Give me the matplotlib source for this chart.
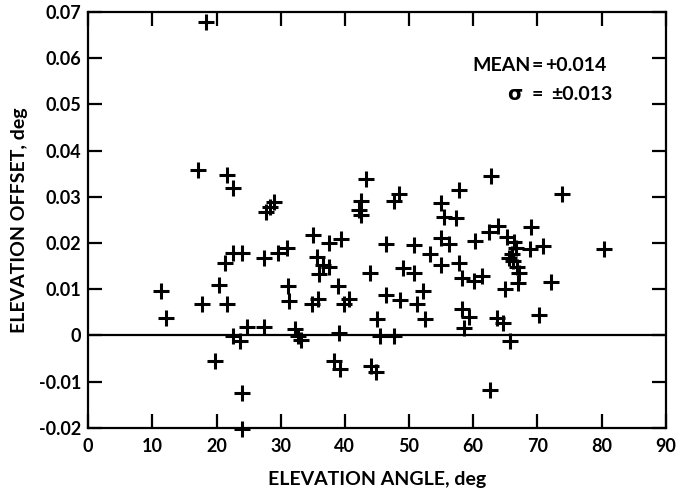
import matplotlib
matplotlib.use("Agg")
import matplotlib.pyplot as plt

# elevation angle (deg) and elevation offset (deg)
angle = [11.3, 12.1, 17.1, 17.8, 18.3, 19.8,
         20.4, 21.3, 21.6, 21.7, 22.6, 22.6, 24.0, 22.6, 23.7, 24.0, 24.0, 24.8,
         27.4, 27.4, 27.7, 28.3, 28.9, 29.6, 31.0, 31.1, 31.3, 32.3, 32.7, 33.1,
         34.9, 35.8, 35.1, 35.6, 36.6, 37.5, 35.9, 37.5, 38.9, 39.4, 38.3, 39.2,
         39.1, 39.9, 40.7,
         42.2, 42.5, 42.5, 43.3, 43.9, 44.1, 44.9, 45.0, 45.5, 46.4, 46.4, 47.6,
         47.6, 48.4, 48.6, 49.0,
         50.8, 50.8, 51.2, 52.2, 52.5, 53.3, 54.9, 55.0, 55.5, 57.3, 55.0, 56.2,
         57.8, 57.8,
         58.2, 58.3, 59.3, 58.5, 60.1, 60.3, 61.4, 62.4, 62.6, 62.7, 63.9, 63.7,
         64.7,
         65.2, 66.3, 66.6, 66.0, 65.5, 66.2, 66.8, 67.2, 66.9, 65.0, 65.7, 68.8,
         69.0, 70.8, 70.3, 72.1, 73.8, 80.3]
offset = [0.0097, 0.0037, 0.0358, 0.0067, 0.0678, -0.0055,
          0.0108, 0.0157, 0.0348, 0.0067, 0.0318, 0.0179, 0.0179, -0.0001, -0.0012, -0.0125, -0.0203, 0.0018,
          0.0018, 0.0167, 0.0267, 0.0277, 0.0289, 0.0179, 0.0188, 0.0106, 0.0074, 0.0014, -0.0001, -0.0010,
          0.0068, 0.0078, 0.0218, 0.0169, 0.0152, 0.0148, 0.0133, 0.0199, 0.0107, 0.0208, -0.0056, -0.0072,
          0.0006, 0.0068, 0.0079,
          0.0272, 0.0261, 0.0290, 0.0338, 0.0136, -0.0066, -0.0080, 0.0035, -0.0002, 0.0198, 0.0088, 0.0290,
          -0.0002, 0.0305, 0.0077, 0.0145,
          0.0135, 0.0196, 0.0067, 0.0096, 0.0035, 0.0177, 0.0153, 0.0287, 0.0256, 0.0255, 0.0211, 0.0197,
          0.0315, 0.0157,
          0.0124, 0.0056, 0.0039, 0.0015, 0.0117, 0.0205, 0.0128, 0.0223, -0.0118, 0.0345, 0.0237, 0.0038,
          0.0027,
          0.0213, 0.0203, 0.0190, 0.0175, 0.0168, 0.0160, 0.0148, 0.0135, 0.0113, 0.0101, -0.0012, 0.0187,
          0.0235, 0.0194, 0.0044, 0.0115, 0.0305, 0.0187]

x_ticks = [0, 10, 20, 30, 40, 50, 60, 70, 80, 90]
y_ticks = [-0.02, -0.01, 0, 0.01, 0.02, 0.03, 0.04, 0.05, 0.06, 0.07]
y_labels = ["-0.02", "-0.01", "0", "0.01", "0.02", "0.03", "0.04", "0.05", "0.06", "0.07"]

plt.rcParams['font.family'] = ['Lato', 'DejaVu Sans']

fig = plt.figure(figsize=(6.78, 4.94), dpi=100)
ax = fig.add_axes([0.130, 0.134, 0.852, 0.842])

ax.axhline(0, color='black', lw=1.6, zorder=1)
ax.plot(angle, offset, linestyle='none', marker='+', ms=12, mew=2.2, color='black',
        zorder=2, clip_on=False)

ax.set_xlim(0, 90)
ax.set_ylim(-0.02, 0.07)
ax.set_xticks(x_ticks)
ax.set_yticks(y_ticks)
ax.set_yticklabels(y_labels)

for s in ax.spines.values():
    s.set_linewidth(1.6)
ax.tick_params(direction='in', length=10, width=1.6, top=True, right=True,
               labelsize=13, pad=5)
ax.tick_params(axis='x', pad=7)
for lab in ax.get_xticklabels() + ax.get_yticklabels():
    lab.set_fontweight('bold')

ax.set_xlabel("ELEVATION ANGLE, deg", fontsize=14, fontweight='bold', labelpad=12)
ax.set_ylabel("ELEVATION OFFSET, deg", fontsize=14, fontweight='bold', labelpad=8)

# stats box, "=" signs lined up
ax.text(68.9, 0.0583, "MEAN", ha='right', va='center', fontsize=14, fontweight='bold')
ax.text(70.0, 0.0583, "=", ha='center', va='center', fontsize=14, fontweight='bold')
ax.text(71.2, 0.0583, "+0.014", ha='left', va='center', fontsize=14, fontweight='bold')
ax.text(67.6, 0.0521, "σ", ha='right', va='center', fontsize=14, fontweight='bold',
        family=['DejaVu Sans'])
ax.text(70.0, 0.0521, "=", ha='center', va='center', fontsize=14, fontweight='bold')
ax.text(72.1, 0.0521, "±0.013", ha='left', va='center', fontsize=14, fontweight='bold')

fig.savefig("out.png", dpi=100)
